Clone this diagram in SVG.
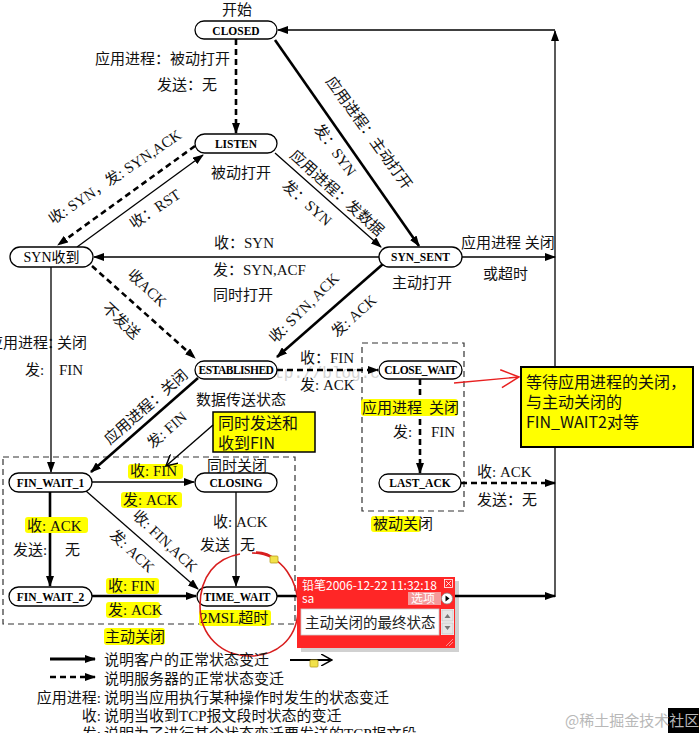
<svg xmlns="http://www.w3.org/2000/svg" width="699" height="733" viewBox="0 0 699 733">
<defs>
<style>
.nd rect{fill:#fff;stroke:#000;stroke-width:1.3}
.nd text{font-family:"Liberation Serif","Noto Sans CJK SC",serif;font-weight:bold;font-size:11.5px;text-anchor:middle;fill:#000}
.t{font-family:"Liberation Serif","Noto Sans CJK SC",serif;font-size:15px;fill:#111}
.m{text-anchor:middle}
.e{text-anchor:end}
.hl{fill:#ffff00}
.thick{stroke:#000;stroke-width:2.6;fill:none}
.thin{stroke:#000;stroke-width:1.3;fill:none}
.dash{stroke:#000;stroke-width:2.6;fill:none;stroke-dasharray:6 4}
.box{stroke:#333;stroke-width:1.2;fill:none;stroke-dasharray:6 4}
.sans{font-family:"Noto Sans CJK SC","Liberation Sans",sans-serif}
</style>
<marker id="a" viewBox="0 0 11 8" refX="10" refY="4" markerWidth="11" markerHeight="8" markerUnits="userSpaceOnUse" orient="auto"><path d="M0,0 L11,4 L0,8 z" fill="#000"/></marker>
<marker id="v" viewBox="0 0 12 12" refX="11" refY="6" markerWidth="12" markerHeight="12" markerUnits="userSpaceOnUse" orient="auto"><path d="M0,0 L11,6 L0,12" fill="none" stroke="#000" stroke-width="1.5"/></marker>
<marker id="vr" viewBox="0 0 20 20" refX="19" refY="10" markerWidth="20" markerHeight="20" markerUnits="userSpaceOnUse" orient="auto"><path d="M1,1 L19,10 L1,19" fill="none" stroke="#e82020" stroke-width="1.5"/></marker>
</defs>
<rect width="699" height="733" fill="#fff"/>

<!-- watermark -->
<text x="255" y="378" font-family="Liberation Mono,monospace" font-size="16" fill="#d4d4d4">http://blog.csdn.net/</text>

<!-- dashed group boxes -->
<g id="active-close-box"><rect class="box" x="3" y="457" width="292" height="167"/></g>
<g id="passive-close-box"><rect class="box" x="362" y="343" width="102" height="168"/></g>

<g id="connectors">
<path class="dash" d="M236 39 V133" marker-end="url(#a)"/>
<path class="thick" d="M275 40 L419 246" marker-end="url(#a)"/>
<path class="thin" d="M275 153 L381 247" marker-end="url(#a)"/>
<path class="dash" d="M195 146 L58 245" marker-end="url(#a)"/>
<path class="thin" d="M77 247 L203 155" marker-end="url(#a)"/>
<path class="thin" d="M379 257 L94 257" marker-end="url(#a)"/>
<path class="thin" d="M462 257 H555" marker-end="url(#a)"/>
<path class="dash" d="M92 266 L195 358" marker-end="url(#a)"/>
<path class="thick" d="M383 264 L277 357" marker-end="url(#a)"/>
<path class="thin" d="M51 267 V472" marker-end="url(#a)"/>
<path class="dash" d="M277 370 H378" marker-end="url(#a)"/>
<path class="thick" d="M198 378 L91 472" marker-end="url(#a)"/>
<path class="dash" d="M420 379 V473" marker-end="url(#a)"/>
<path class="dash" d="M461 483 H555" marker-end="url(#a)"/>
<path class="thin" d="M92 482 H194" marker-end="url(#a)"/>
<path class="thick" d="M50 492 V586" marker-end="url(#a)"/>
<path class="thin" d="M86 491 L198 589" marker-end="url(#a)"/>
<path class="thin" d="M236 492 V586" marker-end="url(#a)"/>
<path class="thick" d="M92 596 H196" marker-end="url(#a)"/>
<path class="thick" d="M277 596 H555" marker-end="url(#a)"/>
<path class="thin" d="M555 597 V31" marker-end="url(#a)"/>
<path class="thin" d="M555 30 H278" marker-end="url(#a)"/>
</g>

<g id="CLOSED" class="nd"><rect x="195" y="21" width="82" height="18" rx="9"/><text x="236" y="34.5">CLOSED</text></g>
<g id="LISTEN" class="nd"><rect x="195" y="134" width="82" height="19" rx="9.5"/><text x="236" y="147.5">LISTEN</text></g>
<g id="SYN_RCVD" class="nd"><rect x="10" y="247" width="83" height="20" rx="10"/><text x="51.5" y="262" style="font-weight:normal;font-size:14px">SYN收到</text></g>
<g id="SYN_SENT" class="nd"><rect x="379" y="247" width="83" height="20" rx="10"/><text x="420.5" y="261">SYN_SENT</text></g>
<g id="ESTABLISHED" class="nd"><rect x="195" y="361" width="82" height="18" rx="9"/><text x="236" y="374" style="letter-spacing:-0.5px">ESTABLISHED</text></g>
<g id="CLOSE_WAIT" class="nd"><rect x="379" y="361" width="83" height="18" rx="9"/><text x="420.5" y="374" style="letter-spacing:-0.3px">CLOSE_WAIT</text></g>
<g id="FIN_WAIT_1" class="nd"><rect x="9" y="473" width="83" height="19" rx="9.5"/><text x="50.5" y="486.5">FIN_WAIT_1</text></g>
<g id="CLOSING" class="nd"><rect x="195" y="473" width="82" height="19" rx="9.5"/><text x="236" y="486.5">CLOSING</text></g>
<g id="LAST_ACK" class="nd"><rect x="379" y="474" width="82" height="18" rx="9"/><text x="420" y="487">LAST_ACK</text></g>
<g id="FIN_WAIT_2" class="nd"><rect x="9" y="587" width="83" height="19" rx="9.5"/><text x="50.5" y="600.5">FIN_WAIT_2</text></g>
<g id="TIME_WAIT" class="nd"><rect x="197" y="587" width="80" height="19" rx="9.5"/><text x="237" y="600.5">TIME_WAIT</text></g>

<!-- highlights -->
<g id="highlights">
<rect class="hl" x="128" y="464" width="55" height="15" rx="3"/>
<rect class="hl" x="121" y="492" width="61" height="16" rx="3"/>
<rect class="hl" x="25" y="517" width="63" height="16" rx="3"/>
<rect class="hl" x="106" y="578" width="53" height="16" rx="3"/>
<rect class="hl" x="106" y="602" width="54" height="16" rx="3"/>
<rect class="hl" x="199" y="610" width="72" height="16" rx="3"/>
<rect class="hl" x="104" y="628" width="61" height="17" rx="3"/>
<rect class="hl" x="361" y="399" width="97" height="17" rx="3"/>
<rect class="hl" x="371" y="516" width="50" height="16" rx="3"/>
</g>

<g id="labels">
<text class="t m" x="237" y="15">开始</text>
<text class="t" x="95" y="64">应用进程：被动打开</text>
<text class="t" x="157" y="90">发送：无</text>
<text class="t" x="211" y="178">被动打开</text>
<text class="t" x="214" y="248">收：SYN</text>
<text class="t" x="213" y="275">发：SYN,ACF</text>
<text class="t" x="213" y="300">同时打开</text>
<text class="t" x="461" y="248">应用进程 关闭</text>
<text class="t" x="483" y="279">或超时</text>
<text class="t" x="392" y="288">主动打开</text>
<text class="t e" x="48" y="348">应用进程</text>
<text class="t" x="47" y="348">：</text>
<text class="t" x="57" y="348">关闭</text>
<text class="t" x="25" y="375">发:</text>
<text class="t" x="59" y="375">FIN</text>
<text class="t" x="300" y="363">收：FIN</text>
<text class="t" x="300" y="390">发: ACK</text>
<text class="t" x="196" y="405">数据传送状态</text>
<text class="t" x="207" y="471">同时关闭</text>
<text class="t" x="130" y="476">收: FIN</text>
<text class="t" x="123" y="505">发: ACK</text>
<text class="t" x="213" y="527">收: ACK</text>
<text class="t" x="200" y="550">发送</text>
<text class="t" x="240" y="550">无</text>
<text class="t" x="27" y="531">收: ACK</text>
<text class="t" x="13" y="555">发送:</text>
<text class="t" x="65" y="555">无</text>
<text class="t" x="108" y="591">收: FIN</text>
<text class="t" x="108" y="615">发: ACK</text>
<text class="t" x="200" y="623">2MSL超时</text>
<text class="t" x="105" y="642">主动关闭</text>
<text class="t" x="362" y="413">应用进程</text>
<text class="t" x="429" y="413">关闭</text>
<text class="t" x="393" y="437">发:</text>
<text class="t" x="431" y="437">FIN</text>
<text class="t" x="477" y="477">收: ACK</text>
<text class="t" x="477" y="505">发送：无</text>
<text class="t" x="373" y="529">被动关闭</text>

<text class="t m" transform="translate(369,133) rotate(54)" y="5">应用进程：主动打开</text>
<text class="t m" transform="translate(335,150) rotate(54)" y="5">发：SYN</text>
<text class="t m" transform="translate(337,193) rotate(42)" y="5">应用进程：发数据</text>
<text class="t m" transform="translate(307,203) rotate(42)" y="5">发：SYN</text>
<text class="t m" transform="translate(115,177) rotate(-34)" y="5">收: SYN，发: SYN,ACK</text>
<text class="t m" transform="translate(155,209) rotate(-34)" y="5">收：RST</text>
<text class="t m" transform="translate(147,288) rotate(43)" y="5">收ACK</text>
<text class="t m" transform="translate(121,321) rotate(43)" y="5">不发送</text>
<text class="t m" transform="translate(304,308) rotate(-45)" y="5">收: SYN, ACK</text>
<text class="t m" transform="translate(354,316) rotate(-42)" y="5">发: ACK</text>
<text class="t m" transform="translate(146,407) rotate(-41)" y="5">应用进程：关闭</text>
<text class="t m" transform="translate(167,430) rotate(-41)" y="5">发: FIN</text>
<text class="t m" transform="translate(165,541) rotate(43)" y="5">收: FIN,ACK</text>
<text class="t m" transform="translate(132,551) rotate(43)" y="5">发: ACK</text>
</g>

<!-- callouts -->
<g id="callout-simul">
<rect x="213" y="412" width="102" height="40" fill="#ffff00" stroke="#000" stroke-width="1.5"/>
<text class="sans" x="218" y="429" font-size="16" fill="#111">同时发送和</text>
<text class="sans" x="218" y="449" font-size="16" fill="#111">收到FIN</text>
<path d="M213 425 L166 466" stroke="#000" stroke-width="1.4" fill="none" marker-end="url(#v)"/>
</g>
<g id="callout-closewait">
<rect x="521" y="367" width="172" height="80" fill="#ffff00" stroke="#000" stroke-width="2"/>
<text class="sans" x="526" y="388" font-size="16" fill="#111">等待应用进程的关闭，</text>
<text class="sans" x="526" y="408" font-size="16" fill="#111">与主动关闭的</text>
<text class="sans" x="526" y="428" font-size="16" fill="#111">FIN_WAIT2对等</text>
<path d="M454 383 L519 377" stroke="#e82020" stroke-width="1.4" fill="none" marker-end="url(#vr)"/>
</g>

<!-- red hand-drawn circle -->
<path d="M252 553 C282 553 300 582 298 612 C296 640 276 656 250 656 C222 656 200 636 200 606 C200 576 216 558 240 554 M256 552 C266 552 272 556 276 560" fill="none" stroke="#d81e1e" stroke-width="1.6"/>
<rect x="270" y="556" width="8" height="7" rx="1" fill="#f2e24a" stroke="#b8a020" stroke-width="0.8"/>

<!-- popup comment -->
<g id="popup">
<rect x="301" y="581" width="158" height="71" fill="#000" opacity="0.18"/>
<rect x="297" y="577" width="158" height="71" fill="#ff2626"/>
<text class="sans" x="302" y="590" font-size="12" fill="#fff">铅笔2006-12-22 11:32:18</text>
<rect x="444.5" y="579.5" width="8" height="8" fill="none" stroke="#fff" stroke-width="0.8"/>
<path d="M446 581 L451 586 M451 581 L446 586" stroke="#fff" stroke-width="0.8"/>
<text class="sans" x="302" y="603" font-size="12" fill="#fff">sa</text>
<rect x="408" y="592" width="33" height="13" fill="#f59a9a"/>
<text class="sans" x="411" y="603" font-size="12" fill="#fff">选项</text>
<circle cx="447" cy="598.5" r="5.5" fill="#fff" stroke="#888" stroke-width="0.8"/>
<path d="M445.5 595.5 L449.5 598.5 L445.5 601.5 z" fill="#000"/>
<rect x="301" y="609" width="138" height="26" fill="#fff" stroke="#ccc" stroke-width="0.8"/>
<text class="sans" x="305" y="628" font-size="14.5" fill="#222">主动关闭的最终状态</text>
<rect x="441" y="609" width="13" height="26" fill="#f4f4f4"/>
<rect x="442" y="610" width="11" height="11" fill="#e6e6e6" stroke="#bbb" stroke-width="0.6"/>
<rect x="442" y="623" width="11" height="11" fill="#e6e6e6" stroke="#bbb" stroke-width="0.6"/>
<path d="M444.5 618 L447.5 614 L450.5 618 z M444.5 626 L447.5 630 L450.5 626 z" fill="#777"/>
<path d="M446 646 L453 639 M449 646 L453 642" stroke="#f9b0b0" stroke-width="0.8"/>
</g>

<!-- legend -->
<g id="legend">
<path d="M50 659 H95" stroke="#000" stroke-width="3" marker-end="url(#a)"/>
<path d="M50 677 H95" stroke="#000" stroke-width="2.6" stroke-dasharray="6 4" marker-end="url(#a)"/>
<text class="t" x="104" y="665">说明客户的正常状态变迁</text>
<text class="t" x="104" y="684">说明服务器的正常状态变迁</text>
<text class="t e" x="101" y="703">应用进程:</text>
<text class="t" x="104" y="703">说明当应用执行某种操作时发生的状态变迁</text>
<text class="t e" x="101" y="721">收:</text>
<text class="t" x="104" y="721">说明当收到TCP报文段时状态的变迁</text>
<text class="t e" x="101" y="739">发:</text>
<text class="t" x="104" y="739">说明为了进行某个状态变迁要发送的TCP报文段</text>
<path d="M290 660 H332" stroke="#000" stroke-width="2" marker-end="url(#v)"/>
<rect x="310" y="660" width="8" height="7" rx="1" fill="#f2e24a" stroke="#b8a020" stroke-width="0.8"/>
</g>

<rect x="668" y="708" width="31" height="25" fill="#000"/>
<text class="sans" x="565" y="726" font-size="15" fill="#b8b8b8">@稀土掘金技术社区</text>
</svg>
